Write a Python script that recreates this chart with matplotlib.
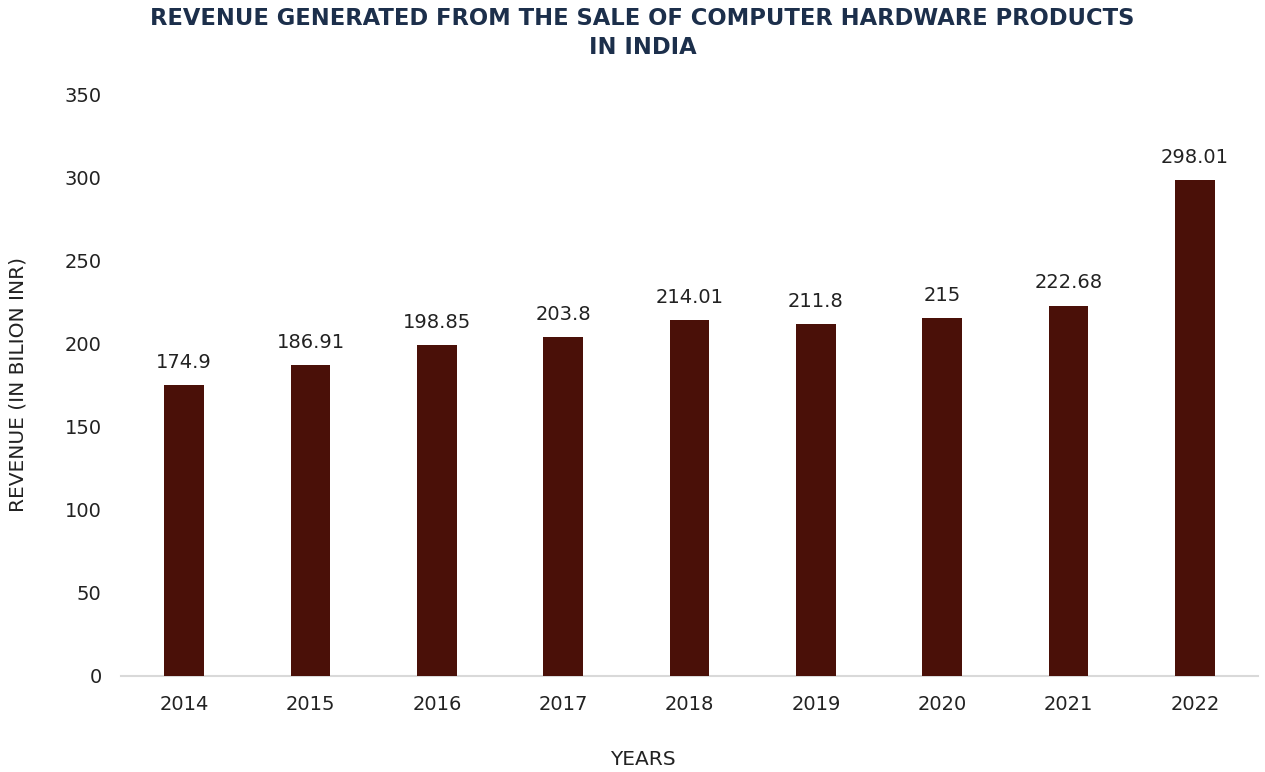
import matplotlib
matplotlib.use("Agg")
import matplotlib.pyplot as plt

years = ["2014", "2015", "2016", "2017", "2018", "2019", "2020", "2021", "2022"]
revenue = [174.9, 186.91, 198.85, 203.8, 214.01, 211.8, 215, 222.68, 298.01]
labels = ["174.9", "186.91", "198.85", "203.8", "214.01", "211.8", "215", "222.68", "298.01"]

plt.rcParams['font.family'] = ['DejaVu Sans']

fig = plt.figure(figsize=(12.65, 7.72), dpi=100)
ax = fig.add_axes([0.0957, 0.1244, 0.8988, 0.7538])

x = range(len(years))
bars = ax.bar(x, revenue, width=0.315, color="#4a1008", zorder=3)
for xi, v, lab in zip(x, revenue, labels):
    ax.text(xi, v + 8, lab, ha="center", va="bottom", fontsize=14, color="#222222")

ax.set_xlim(-0.5, len(years) - 0.5)
ax.set_ylim(0, 350)
ax.set_yticks(range(0, 351, 50))
ax.set_xticks(list(x))
ax.set_xticklabels(years)
ax.tick_params(axis="both", length=0, labelsize=14, colors="#222222")
ax.tick_params(axis="y", pad=14)
ax.tick_params(axis="x", pad=14)
for s in ["top", "right", "left"]:
    ax.spines[s].set_visible(False)
ax.spines["bottom"].set_color("#d9d9d9")
ax.spines["bottom"].set_linewidth(1.5)

fig.text(0.0145, 0.502, "REVENUE (IN BILION INR)", rotation=90, ha="center", va="center",
         fontsize=14.5, color="#222222")
fig.text(0.508, 0.016, "YEARS", ha="center", va="center", fontsize=14.5, color="#222222")
fig.text(0.508, 0.957, "REVENUE GENERATED FROM THE SALE OF COMPUTER HARDWARE PRODUCTS\nIN INDIA",
         ha="center", va="center", fontsize=16.3, fontweight="bold", color="#1c2f4b",
         linespacing=1.35)

fig.savefig("out.png", dpi=100)
